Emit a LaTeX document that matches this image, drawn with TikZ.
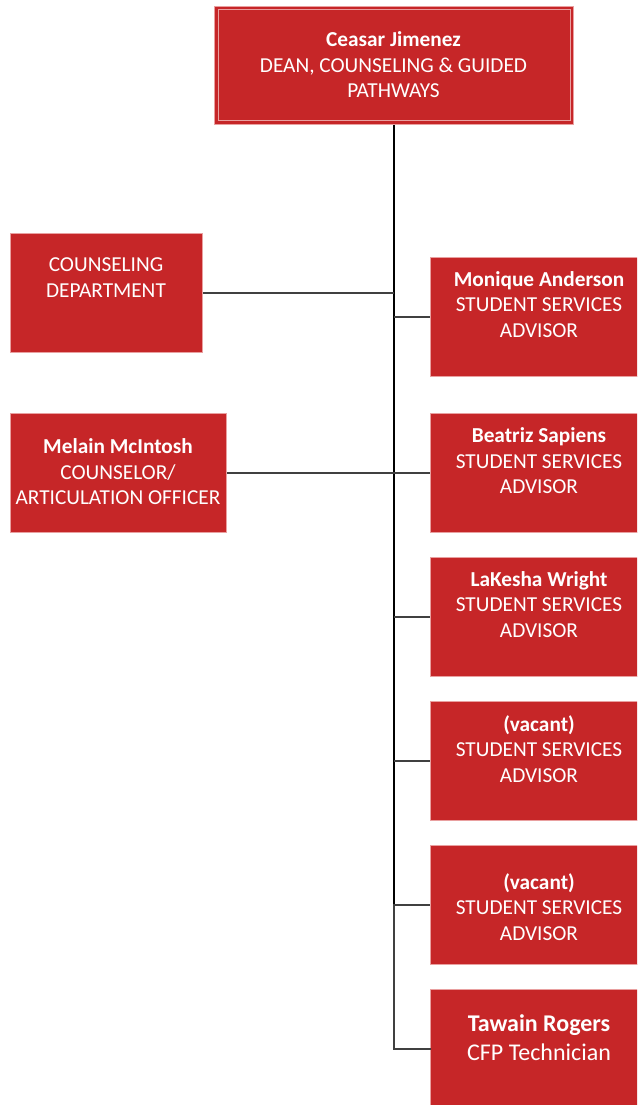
\documentclass[tikz,border=0pt]{standalone}
\usepackage{fontspec}
\setmainfont{Carlito}
\definecolor{boxred}{HTML}{C62628}
\definecolor{boxline}{HTML}{E9A0A0}
\definecolor{linkgray}{HTML}{404040}
\begin{document}
\begin{tikzpicture}[x=1pt,y=-1pt,
  box/.style={draw=boxline, fill=boxred, line width=1pt, inner sep=0pt, anchor=north west},
  txt/.style={text=white, align=center, font=\fontsize{21.3}{25.5}\selectfont, inner sep=0pt},
  bigtxt/.style={text=white, align=center, font=\fontsize{24}{29}\selectfont, inner sep=0pt},
  trunk/.style={line width=1.6pt, black},
  link/.style={line width=1.4pt, linkgray}]
\useasboundingbox (0,0) rectangle (637,1105);
\clip (0,0) rectangle (637,1105);
% boxes
\node[box, minimum width=359pt, minimum height=118pt] (dean) at (214,6) {};
\draw[boxline, line width=1pt] ([shift={(4,4)}]dean.north west) rectangle ([shift={(-4,-4)}]dean.south east);
\node[box, minimum width=192pt, minimum height=119pt] (couns) at (10,233) {};
\node[box, minimum width=216pt, minimum height=119pt] (mel) at (10,413) {};
\node[box, minimum width=218pt, minimum height=119pt] (mon) at (430,257) {};
\node[box, minimum width=218pt, minimum height=119pt] (bea) at (430,413) {};
\node[box, minimum width=218pt, minimum height=119pt] (lak) at (430,557) {};
\node[box, minimum width=218pt, minimum height=119pt] (vaa) at (430,701) {};
\node[box, minimum width=218pt, minimum height=119pt] (vab) at (430,845) {};
\node[box, minimum width=218pt, minimum height=119pt] (taw) at (430,989) {};
% texts
\node[txt] (deant) at (393.5,65) {\textbf{Ceasar Jimenez}\\DEAN, COUNSELING \& GUIDED\\PATHWAYS};
\node[txt] (counst) at (106,277.5) {COUNSELING\\DEPARTMENT};
\node[txt] (melt) at (118,472) {\textbf{Melain McIntosh}\\COUNSELOR/\\ARTICULATION OFFICER};
\node[txt] (mont) at (539,304.5) {\textbf{Monique Anderson}\\STUDENT SERVICES\\ADVISOR};
\node[txt] (beat) at (539,461) {\textbf{Beatriz Sapiens}\\STUDENT SERVICES\\ADVISOR};
\node[txt] (lakt) at (539,604.5) {\textbf{LaKesha Wright}\\STUDENT SERVICES\\ADVISOR};
\node[txt] (vaat) at (539,749) {\textbf{(vacant)}\\STUDENT SERVICES\\ADVISOR};
\node[txt] (vabt) at (539,907) {\textbf{(vacant)}\\STUDENT SERVICES\\ADVISOR};
\node[bigtxt] (tawt) at (539,1037.5) {\textbf{Tawain Rogers}\\CFP Technician};
% connectors
\coordinate (tEnd) at (dean.south |- taw.west);
\coordinate (tMid) at (dean.south |- vab.west);
\draw[trunk] (dean.south) -- (tMid);
\draw[link, line cap=rect] (tMid) -- (tEnd) -- (taw.west);
\draw[link] (couns.east) -- (couns.east -| dean.south);
\draw[link] (mel.east) -- (bea.west);
\draw[link] (mon.west -| dean.south) -- (mon.west);
\draw[link] (lak.west -| dean.south) -- (lak.west);
\draw[link] (vaa.west -| dean.south) -- (vaa.west);
\draw[link] (vab.west -| dean.south) -- (vab.west);
\end{tikzpicture}
\end{document}
